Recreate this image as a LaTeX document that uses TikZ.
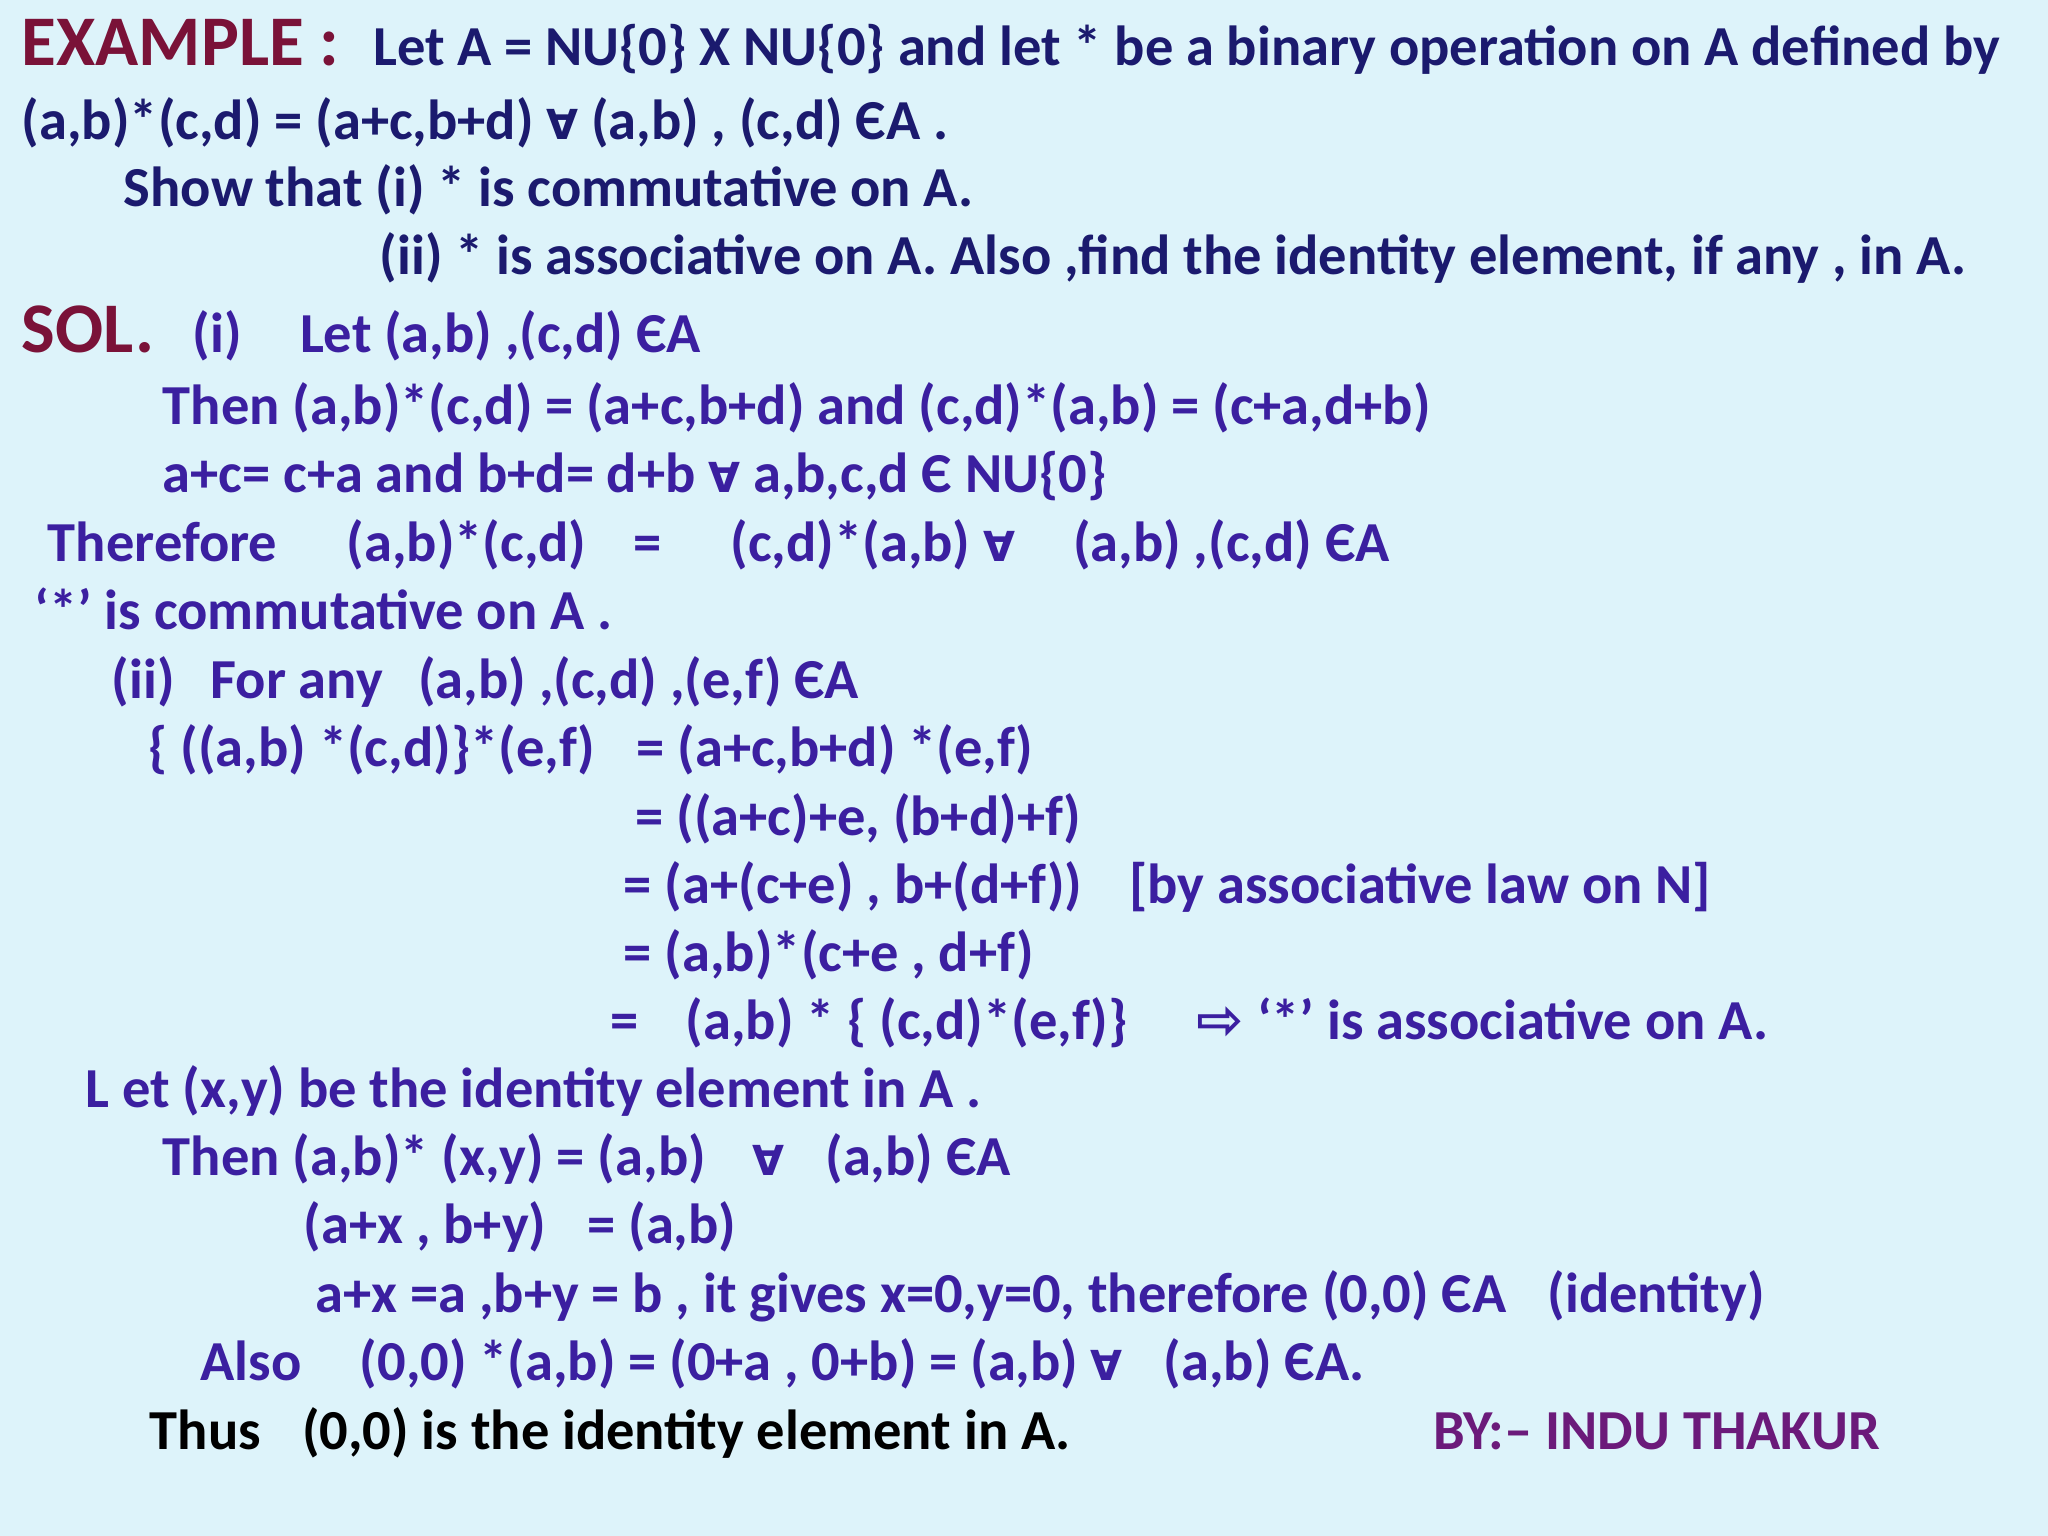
\documentclass[tikz,border=0pt]{standalone}
\usepackage{fontspec}
\setmainfont{Carlito}
\newfontfamily\dvs{DejaVu Sans}
\newcommand{\fa}{{\dvs\small ∀}}
\newcommand{\ra}{{\dvs ⇨}}
\definecolor{bgc}{HTML}{DDF3FA}
\definecolor{navy}{HTML}{1B1A6E}
\definecolor{solc}{HTML}{3B1FA0}
\definecolor{redc}{HTML}{7A1238}
\definecolor{byc}{HTML}{6B1A7A}
\begin{document}
\begin{tikzpicture}[x=0.01cm,y=-0.01cm,
  t/.style={anchor=base west,inner sep=0pt,font=\fontsize{12.3}{14}\selectfont\bfseries},
  q/.style={t,text=navy},
  s/.style={t,text=solc},
  h/.style={anchor=base west,inner sep=0pt,font=\fontsize{15.5}{18}\selectfont\bfseries,text=redc}]
\fill[bgc] (0,0) rectangle (1568,1176);
\useasboundingbox (0,0) rectangle (1568,1176);
\node[h] (ex) at (16,50) {EXAMPLE :};
\node[q] (l1) at (285,50) {Let A = NU\{0\} X NU\{0\} and let * be a binary operation on A defined by};
\node[q] (l2) at (16,107) {(a,b)*(c,d) = (a+c,b+d) \fa{} (a,b) , (c,d) ЄA .};
\node[q] (l3) at (94,158) {Show that (i) * is commutative on A.};
\node[q] (l4) at (290,210) {(ii) * is associative on A. Also ,find the identity element, if any , in A.};
\node[h] (sol) at (16,270) {SOL.};
\node[s] (s1) at (147,270) {(i)\hspace{0.8em} Let (a,b) ,(c,d) ЄA};
\node[s] (s2) at (124,325) {Then (a,b)*(c,d) = (a+c,b+d) and (c,d)*(a,b) = (c+a,d+b)};
\node[s] (s3) at (124,377) {a+c= c+a and b+d= d+b \fa{} a,b,c,d Є NU\{0\}};
\node[s] (s4) at (36,430) {Therefore\hspace{1em} (a,b)*(c,d)\hspace{0.6em} =\hspace{1em} (c,d)*(a,b) \fa{}\hspace{0.8em} (a,b) ,(c,d) ЄA};
\node[s] (s5) at (26,482) {‘*’ is commutative on A .};
\node[s] (s6) at (85,535) {(ii)\hspace{0.4em} For any\hspace{0.4em} (a,b) ,(c,d) ,(e,f) ЄA};
\node[s] (s7) at (113,587) {\{ ((a,b) *(c,d)\}*(e,f)\hspace{0.5em} = (a+c,b+d) *(e,f)};
\node[s] (s8) at (486,640) {= ((a+c)+e, (b+d)+f)};
\node[s] (s9) at (477,692) {= (a+(c+e) , b+(d+f))\hspace{0.6em} [by associative law on N]};
\node[s] (s10) at (477,744) {= (a,b)*(c+e , d+f)};
\node[s] (s11) at (467,796) {=\hspace{0.6em} (a,b) * \{ (c,d)*(e,f)\}\hspace{1em} \ra{} ‘*’ is associative on A.};
\node[s] (s12) at (65,848) {L et (x,y) be the identity element in A .};
\node[s] (s13) at (124,900) {Then (a,b)* (x,y) = (a,b)\hspace{0.6em} \fa{}\hspace{0.5em} (a,b) ЄA};
\node[s] (s14) at (232,952) {(a+x , b+y)\hspace{0.5em} = (a,b)};
\node[s] (s15) at (241,1005) {a+x =a ,b+y = b , it gives x=0,y=0, therefore (0,0) ЄA\hspace{0.5em} (identity)};
\node[s] (s16) at (153,1057) {Also\hspace{0.8em} (0,0) *(a,b) = (0+a , 0+b) = (a,b) \fa{}\hspace{0.5em} (a,b) ЄA.};
\node[t,text=black] (s17) at (114,1110) {Thus\hspace{0.5em} (0,0) is the identity element in A.};
\node[t,text=byc] (by) at (1097,1110) {BY:-- INDU THAKUR};
\end{tikzpicture}
\end{document}
